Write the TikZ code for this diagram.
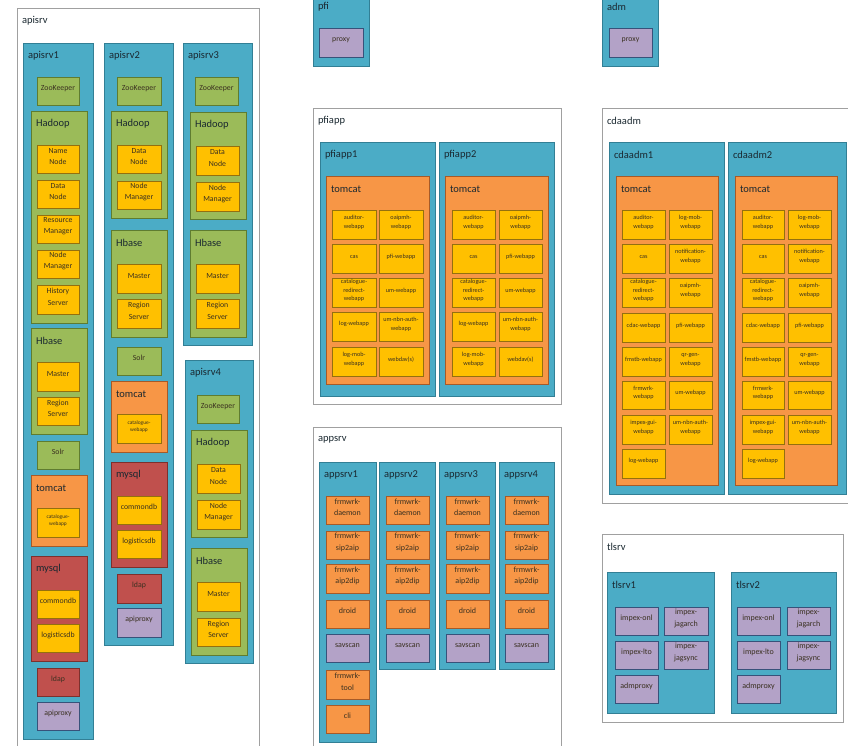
\documentclass[tikz,border=0pt]{standalone}
\usepackage{fontspec}
\setmainfont{Carlito}
\usetikzlibrary{fit}
\definecolor{srvF}{HTML}{4BACC6}\definecolor{srvD}{HTML}{327F95}
\definecolor{grnF}{HTML}{9BBB59}\definecolor{grnD}{HTML}{5F7C30}
\definecolor{yelF}{HTML}{FFC000}\definecolor{yelD}{HTML}{94700E}
\definecolor{orgF}{HTML}{F79646}\definecolor{orgD}{HTML}{A65A28}
\definecolor{rdbF}{HTML}{C0504D}\definecolor{rdbD}{HTML}{7D302D}
\definecolor{purF}{HTML}{B3A2C7}\definecolor{purD}{HTML}{37527A}
\definecolor{outD}{HTML}{A0A0A0}
\definecolor{txt}{HTML}{3A3020}
\definecolor{lblc}{HTML}{1A2830}
\tikzset{
  every node/.style={inner sep=0pt, outer sep=0pt},
  bx/.style={draw, line width=1pt, align=center, text=txt},
  grp/.style={draw=outD, fill=white, line width=0.9pt},
  srv/.style={bx, fill=srvF, draw=srvD},
  grn/.style={bx, fill=grnF, draw=grnD},
  yel/.style={bx, fill=yelF, draw=yelD},
  org/.style={bx, fill=orgF, draw=orgD},
  rdb/.style={bx, fill=rdbF, draw=rdbD},
  pur/.style={bx, fill=purF, draw=purD},
  lbl/.style={anchor=west, text=lblc, font=\fontsize{10.5}{12}\selectfont},
  fA/.style={font=\fontsize{7.8}{11.3}\selectfont},
  fB/.style={font=\fontsize{6.2}{8.8}\selectfont},
  fC/.style={font=\fontsize{5.4}{7.6}\selectfont},
  fD/.style={font=\fontsize{8}{11.5}\selectfont},
}
% box with centered text
\newcommand\Bx[7]{\node[#2, fit={(#3,#4)(#5,#6)}] (#1) {#7};}
% container with top-left label
\newcommand\Ct[7]{\node[#2, fit={(#3,#4)(#5,#6)}] (#1) {};
  \node[lbl] (#1-l) at ([xshift=5pt,yshift=-13pt]#1.north west) {#7};}
% pfiapp tomcat content: prefix, col1 l, col1 r, col2 l, col2 r
\newcommand\PfiItems[5]{%
  \Bx{#1-aud}{yel,fB}{#2}{210}{#3}{239}{auditor-\\webapp}
  \Bx{#1-oai}{yel,fB}{#4}{210}{#5}{239}{oaipmh-\\webapp}
  \Bx{#1-cas}{yel,fB}{#2}{244}{#3}{273}{cas}
  \Bx{#1-pfi}{yel,fB}{#4}{244}{#5}{273}{pfi-webapp}
  \Bx{#1-cat}{yel,fB}{#2}{278}{#3}{307}{catalogue-\\redirect-\\webapp}
  \Bx{#1-um}{yel,fB}{#4}{278}{#5}{307}{um-webapp}
  \Bx{#1-log}{yel,fB}{#2}{312}{#3}{341}{log-webapp}
  \Bx{#1-nbn}{yel,fB}{#4}{312}{#5}{341}{um-nbn-auth-\\webapp}
  \Bx{#1-mob}{yel,fB}{#2}{347}{#3}{376}{log-mob-\\webapp}
  \Bx{#1-dav}{yel,fB}{#4}{347}{#5}{376}{webdav(s)}}
\newcommand\CdaItems[5]{%
  \Bx{#1-aud}{yel,fB}{#2}{210}{#3}{239}{auditor-\\webapp}
  \Bx{#1-mob}{yel,fB}{#4}{210}{#5}{239}{log-mob-\\webapp}
  \Bx{#1-cas}{yel,fB}{#2}{244}{#3}{273}{cas}
  \Bx{#1-not}{yel,fB}{#4}{244}{#5}{273}{notification-\\webapp}
  \Bx{#1-cat}{yel,fB}{#2}{278}{#3}{307}{catalogue-\\redirect-\\webapp}
  \Bx{#1-oai}{yel,fB}{#4}{278}{#5}{307}{oaipmh-\\webapp}
  \Bx{#1-cdac}{yel,fB}{#2}{313}{#3}{342}{cdac-webapp}
  \Bx{#1-pfi}{yel,fB}{#4}{313}{#5}{342}{pfi-webapp}
  \Bx{#1-fms}{yel,fB}{#2}{347}{#3}{376}{fmstb-webapp}
  \Bx{#1-qr}{yel,fB}{#4}{347}{#5}{376}{qr-gen-\\webapp}
  \Bx{#1-frm}{yel,fB}{#2}{381}{#3}{409}{frmwrk-\\webapp}
  \Bx{#1-um}{yel,fB}{#4}{381}{#5}{409}{um-webapp}
  \Bx{#1-imp}{yel,fB}{#2}{415}{#3}{444}{impex-gui-\\webapp}
  \Bx{#1-nbn}{yel,fB}{#4}{415}{#5}{444}{um-nbn-auth-\\webapp}
  \Bx{#1-log}{yel,fB}{#2}{449}{#3}{478}{log-webapp}}
% appsrv column: prefix, left, right
\newcommand\AppItems[3]{%
  \Bx{#1-dae}{org,fD}{#2}{496}{#3}{524}{frmwrk-\\daemon}
  \Bx{#1-sip}{org,fD}{#2}{531}{#3}{559}{frmwrk-\\sip2aip}
  \Bx{#1-aip}{org,fD}{#2}{564}{#3}{593}{frmwrk-\\aip2dip}
  \Bx{#1-droid}{org,fD}{#2}{600}{#3}{628}{droid}
  \Bx{#1-sav}{pur,fD}{#2}{634}{#3}{662}{savscan}}
\newcommand\TlItems[5]{%
  \Bx{#1-onl}{pur,fD}{#2}{607}{#3}{635}{impex-onl}
  \Bx{#1-jar}{pur,fD}{#4}{607}{#5}{635}{impex-\\jagarch}
  \Bx{#1-lto}{pur,fD}{#2}{641}{#3}{669}{impex-lto}
  \Bx{#1-jsy}{pur,fD}{#4}{641}{#5}{669}{impex-\\jagsync}
  \Bx{#1-adm}{pur,fD}{#2}{675}{#3}{703}{admproxy}}
\begin{document}
\begin{tikzpicture}[x=1pt,y=-1pt]
\useasboundingbox (0,0) rectangle (848,745);
\clip (0,0) rectangle (848,745);
\fill[white] (0,0) rectangle (848,745);

%================ apisrv
\Ct{apisrv}{grp}{17}{8}{259}{752}{apisrv}
% apisrv1
\Ct{apisrv1}{srv}{23}{43}{93}{739}{apisrv1}
\Bx{a1zk}{grn,fA}{37}{77}{79}{105}{ZooKeeper}
\Ct{a1hd}{grn}{31}{111}{87}{323}{Hadoop}
\Bx{a1nn}{yel,fA}{37}{145}{79}{173}{Name\\Node}
\Bx{a1dn}{yel,fA}{37}{180}{79}{208}{Data\\Node}
\Bx{a1rm}{yel,fA}{37}{215}{79}{243}{Resource\\Manager}
\Bx{a1nm}{yel,fA}{37}{250}{79}{278}{Node\\Manager}
\Bx{a1hs}{yel,fA}{37}{285}{79}{314}{History\\Server}
\Ct{a1hb}{grn}{31}{328}{87}{434}{Hbase}
\Bx{a1ms}{yel,fA}{37}{362}{79}{391}{Master}
\Bx{a1rs}{yel,fA}{37}{397}{79}{425}{Region\\Server}
\Bx{a1solr}{grn,fA}{37}{441}{79}{469}{Solr}
\Ct{a1tc}{org}{31}{475}{87}{546}{tomcat}
\Bx{a1cat}{yel,fC}{37}{508}{79}{537}{catalogue-\\webapp}
\Ct{a1my}{rdb}{31}{556}{87}{661}{mysql}
\Bx{a1cdb}{yel,fA}{37}{590}{79}{618}{commondb}
\Bx{a1ldb}{yel,fA}{37}{624}{79}{652}{logisticsdb}
\Bx{a1ldap}{rdb,fA}{37}{668}{79}{696}{ldap}
\Bx{a1px}{pur,fA}{37}{702}{79}{730}{apiproxy}
% apisrv2
\Ct{apisrv2}{srv}{104}{43}{173}{645}{apisrv2}
\Bx{a2zk}{grn,fA}{117}{77}{161}{105}{ZooKeeper}
\Ct{a2hd}{grn}{111}{111}{167}{218}{Hadoop}
\Bx{a2dn}{yel,fA}{117}{145}{161}{173}{Data\\Node}
\Bx{a2nm}{yel,fA}{117}{181}{161}{209}{Node\\Manager}
\Ct{a2hb}{grn}{111}{230}{167}{337}{Hbase}
\Bx{a2ms}{yel,fA}{117}{264}{161}{293}{Master}
\Bx{a2rs}{yel,fA}{117}{299}{161}{328}{Region\\Server}
\Bx{a2solr}{grn,fA}{117}{347}{161}{375}{Solr}
\Ct{a2tc}{org}{111}{381}{167}{452}{tomcat}
\Bx{a2cat}{yel,fC}{117}{414}{161}{443}{catalogue-\\webapp}
\Ct{a2my}{rdb}{111}{462}{167}{567}{mysql}
\Bx{a2cdb}{yel,fA}{117}{496}{161}{524}{commondb}
\Bx{a2ldb}{yel,fA}{117}{530}{161}{558}{logisticsdb}
\Bx{a2ldap}{rdb,fA}{117}{574}{161}{603}{ldap}
\Bx{a2px}{pur,fA}{117}{608}{161}{637}{apiproxy}
% apisrv3
\Ct{apisrv3}{srv}{183}{43}{252}{345}{apisrv3}
\Bx{a3zk}{grn,fA}{195}{77}{238}{105}{ZooKeeper}
\Ct{a3hd}{grn}{190}{112}{246}{219}{Hadoop}
\Bx{a3dn}{yel,fA}{196}{146}{239}{175}{Data\\Node}
\Bx{a3nm}{yel,fA}{196}{182}{239}{211}{Node\\Manager}
\Ct{a3hb}{grn}{190}{230}{246}{337}{Hbase}
\Bx{a3ms}{yel,fA}{196}{264}{239}{293}{Master}
\Bx{a3rs}{yel,fA}{196}{299}{239}{328}{Region\\Server}
% apisrv4
\Ct{apisrv4}{srv}{185}{360}{253}{663}{apisrv4}
\Bx{a4zk}{grn,fA}{197}{395}{239}{423}{ZooKeeper}
\Ct{a4hd}{grn}{191}{430}{247}{537}{Hadoop}
\Bx{a4dn}{yel,fA}{197}{464}{240}{493}{Data\\Node}
\Bx{a4nm}{yel,fA}{197}{500}{240}{529}{Node\\Manager}
\Ct{a4hb}{grn}{191}{548}{247}{655}{Hbase}
\Bx{a4ms}{yel,fA}{197}{582}{240}{611}{Master}
\Bx{a4rs}{yel,fA}{197}{618}{240}{646}{Region\\Server}

%================ pfi / adm
\Ct{pfi}{srv}{313}{-6}{369}{66}{pfi}
\Bx{pfipx}{pur,fA}{319}{28}{363}{57}{proxy}
\Ct{adm}{srv}{602}{-6}{658}{66}{adm}
\Bx{admpx}{pur,fA}{609}{28}{652}{57}{proxy}

%================ pfiapp
\Ct{pfiapp}{grp}{313}{108}{561}{404}{pfiapp}
\Ct{pfiapp1}{srv}{320}{142}{435}{396}{pfiapp1}
\Ct{p1tc}{org}{326}{176}{429}{384}{tomcat}
\PfiItems{p1}{332}{376}{379}{423}
\Ct{pfiapp2}{srv}{439}{142}{554}{396}{pfiapp2}
\Ct{p2tc}{org}{445}{176}{548}{384}{tomcat}
\PfiItems{p2}{452}{495}{499}{542}

%================ appsrv
\Ct{appsrv}{grp}{313}{427}{561}{752}{appsrv}
\Ct{appsrv1}{srv}{319}{462}{376}{742}{appsrv1}
\AppItems{s1}{326}{369}
\Bx{s1-tool}{org,fD}{326}{670}{369}{699}{frmwrk-\\tool}
\Bx{s1-cli}{org,fD}{326}{705}{369}{733}{cli}
\Ct{appsrv2}{srv}{379}{462}{435}{669}{appsrv2}
\AppItems{s2}{386}{429}
\Ct{appsrv3}{srv}{439}{462}{495}{669}{appsrv3}
\AppItems{s3}{446}{489}
\Ct{appsrv4}{srv}{499}{462}{554}{669}{appsrv4}
\AppItems{s4}{505}{548}

%================ cdaadm
\Ct{cdaadm}{grp}{602}{108}{852}{503}{cdaadm}
\Ct{cdaadm1}{srv}{609}{142}{724}{494}{cdaadm1}
\Ct{c1tc}{org}{616}{176}{718}{485}{tomcat}
\CdaItems{c1}{622}{665}{669}{712}
\Ct{cdaadm2}{srv}{728}{142}{846}{494}{cdaadm2}
\Ct{c2tc}{org}{735}{176}{837}{485}{tomcat}
\CdaItems{c2}{742}{784}{788}{831}

%================ tlsrv
\Ct{tlsrv}{grp}{602}{534}{843}{722}{tlsrv}
\Ct{tlsrv1}{srv}{607}{572}{714}{713}{tlsrv1}
\TlItems{t1}{615}{658}{664}{708}
\Ct{tlsrv2}{srv}{731}{572}{836}{713}{tlsrv2}
\TlItems{t2}{737}{780}{787}{830}
\end{tikzpicture}
\end{document}
